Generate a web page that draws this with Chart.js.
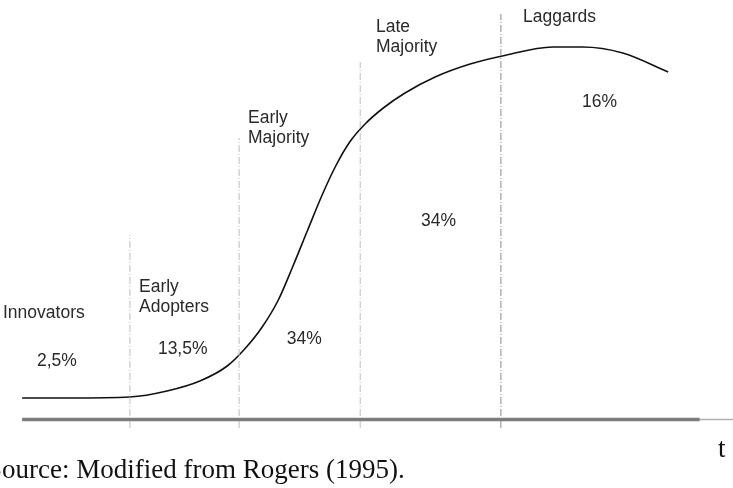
<!DOCTYPE html>
<html>
<head>
<meta charset="utf-8">
<script src="https://cdn.jsdelivr.net/npm/chart.js@4/dist/chart.umd.min.js"></script>
<style>
  html, body { margin: 0; padding: 0; background: #fff; }
  #wrap { width: 733px; height: 488px; position: relative; }
</style>
</head>
<body>
<div id="wrap"><canvas id="diffusionChart"></canvas></div>
<script>
// 확산 곡선 (시간 t, 누적 채택률)
const curveT = [0.3, 7.1, 15.7, 21.0, 25.7, 29.6, 32.1, 34.6, 36.9, 39.0, 41.1, 43.1, 45.1, 47.1, 49.3, 51.9, 55.0, 59.3, 64.3, 68.9, 76.1, 80.4, 86.1, 92.6];
const curveV = [5.5, 5.5, 5.75, 7.25, 9.75, 13.5, 17.75, 23.25, 30, 38.5, 47.5, 56, 63.5, 69.5, 74, 78, 81.75, 85.75, 89, 91, 93.25, 93.25, 91.75, 87];

// 구간 경계선 (t 위치, 위쪽 끝)
const boundaryT = [15.7, 31.3, 48.6, 68.7];
const boundaryTop = [46.25, 70.5, 89.5, 101.5];
const boundaryBottom = -2;

// 구간 이름과 비율
const groupNames = [['Innovators'], ['Early', 'Adopters'], ['Early', 'Majority'], ['Late', 'Majority'], ['Laggards']];
const groupShares = ['2,5%', '13,5%', '34%', '34%', '16%'];

// 텍스트 위치 (데이터 좌표)
const nameAt = [[-2.43, 25.5], [17, 32], [32.57, 74.25], [50.86, 97], [71.86, 99.5]];
const shareAt = [[2.43, 13.5], [19.7, 16.5], [38.1, 19], [57.3, 48.5], [80.3, 78.25]];

const xy = (xs, ys) => xs.map((x, i) => ({ x: x, y: ys[i] }));

const datasets = [];

// 가로축
datasets.push({
    data: [{ x: 0.3, y: 0.1 }, { x: 97.1, y: 0.1 }],
    borderColor: '#7c7c7c',
    borderWidth: 3.5
});
datasets.push({
    data: [{ x: 97.1, y: 0.1 }, { x: 101.9, y: 0.1 }],
    borderColor: '#b0b0b0',
    borderWidth: 1.5
});

// 경계 점선
boundaryT.forEach((t, i) => {
    datasets.push({
        data: [{ x: t, y: boundaryBottom }, { x: t, y: boundaryTop[i] }],
        borderColor: i === 3 ? '#8a8a8a' : '#bdbdbd',
        borderWidth: 1,
        borderDash: [7, 2, 1, 2]
    });
});

// 채택 곡선
datasets.push({
    data: xy(curveT, curveV),
    borderColor: '#111',
    borderWidth: 1.6,
    cubicInterpolationMode: 'monotone'
});

// 텍스트 플러그인
const textPlugin = {
    id: 'diffusionText',
    afterDatasetsDraw(chart) {
        const ctx = chart.ctx;
        const sx = chart.scales.x, sy = chart.scales.y;
        ctx.save();
        ctx.textBaseline = 'alphabetic';
        ctx.textAlign = 'left';
        ctx.fillStyle = '#2a2a2a';
        ctx.font = '17.5px "Liberation Sans", Arial, sans-serif';
        groupNames.forEach((lines, i) => {
            const px = sx.getPixelForValue(nameAt[i][0]);
            const py = sy.getPixelForValue(nameAt[i][1]);
            lines.forEach((line, j) => ctx.fillText(line, px, py + j * 20));
        });
        groupShares.forEach((s, i) => {
            ctx.fillText(s, sx.getPixelForValue(shareAt[i][0]), sy.getPixelForValue(shareAt[i][1]));
        });
        ctx.fillStyle = '#111';
        ctx.font = '27px "Liberation Serif", "Times New Roman", serif';
        ctx.fillText('t', sx.getPixelForValue(99.7), sy.getPixelForValue(-9.25));
        ctx.fillText('Source: Modified from Rogers (1995).', sx.getPixelForValue(-4.71), sy.getPixelForValue(-14.5));
        ctx.restore();
    }
};

new Chart(document.getElementById('diffusionChart'), {
    type: 'line',
    data: { datasets: datasets },
    options: {
        responsive: true,
        maintainAspectRatio: false,
        animation: false,
        clip: false,
        layout: { padding: { left: 20, right: 13, top: 0, bottom: 48 } },
        elements: { point: { radius: 0 } },
        plugins: {
            legend: { display: false },
            tooltip: { enabled: false }
        },
        scales: {
            x: { type: 'linear', min: 0, max: 100, display: false },
            y: { min: -5, max: 105, display: false }
        }
    },
    plugins: [textPlugin]
});
</script>
</body>
</html>
